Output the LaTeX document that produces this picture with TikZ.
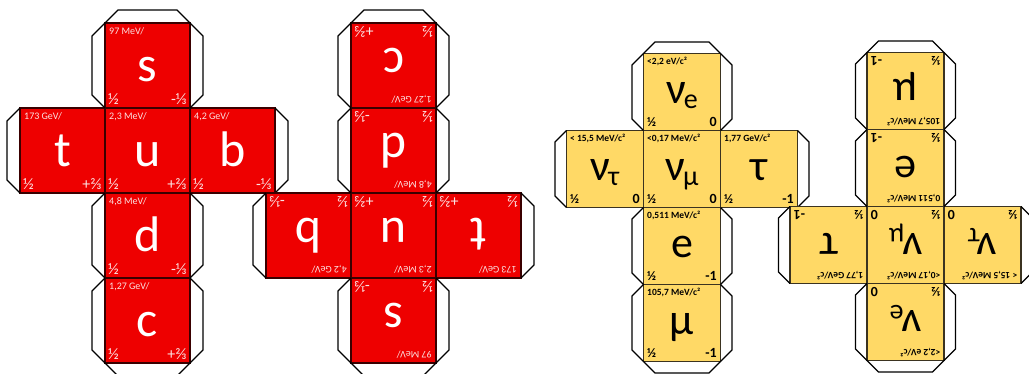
\documentclass[tikz,border=0pt]{standalone}
\usepackage{fontspec}
\setmainfont{Carlito}
\usetikzlibrary{positioning}
\definecolor{quarkred}{HTML}{EE0000}
\definecolor{quarkpale}{HTML}{FBE3E3}
\definecolor{quarkedge}{HTML}{3A0000}
\definecolor{leptongold}{HTML}{FFD966}
\definecolor{leptonedge}{HTML}{3B3320}

\newcommand\sub[1]{\kern-2pt\raisebox{-5pt}{\fontsize{28}{28}\selectfont #1}}
\newcommand\netface[6]{%
  \node[face, #2] (#1) {#4};
  \node[mass] (#1-m) at (#1.north west) {#3};
  \node[spin] (#1-s) at (#1.south west) {#5};
  \node[charge] (#1-q) at (#1.south east) {#6};}
\newcommand\flapN[1]{\draw[flap] (#1.north west) -- ++(\fl,\fl) -- ++(\fsz-2*\fl,0) -- (#1.north east);}
\newcommand\flapS[1]{\draw[flap] (#1.south west) -- ++(\fl,-\fl) -- ++(\fsz-2*\fl,0) -- (#1.south east);}
\newcommand\flapW[1]{\draw[flap] (#1.north west) -- ++(-\fl,-\fl) -- ++(0,2*\fl-\fsz) -- (#1.south west);}
\newcommand\flapE[1]{\draw[flap] (#1.north east) -- ++(\fl,-\fl) -- ++(0,2*\fl-\fsz) -- (#1.south east);}

\begin{document}
\begin{tikzpicture}[x=1pt, y=1pt,
    flap/.style={draw=black, line width=1.1pt},
    quark/.style={
      face/.style={draw=quarkedge, line width=1.2pt, fill=quarkred, text=white,
        minimum size=85pt, inner sep=0pt, outer sep=0pt,
        text height=33pt, text depth=0pt, font=\fontsize{50}{50}\selectfont},
      mass/.style={anchor=north west, inner sep=4pt, text=quarkpale,
        font=\fontsize{10}{12}\selectfont},
      spin/.style={anchor=south west, inner sep=3pt, text=quarkpale,
        font=\fontsize{16}{16}\selectfont},
      charge/.style={anchor=south east, inner sep=3pt, text=quarkpale,
        font=\fontsize{16}{16}\selectfont}},
    lepton/.style={
      face/.style={draw=leptonedge, line width=1.2pt, fill=leptongold, text=black,
        minimum size=77pt, inner sep=0pt, outer sep=0pt,
        text height=23pt, text depth=0pt, font=\fontsize{44}{44}\selectfont},
      mass/.style={anchor=north west, inner sep=3.5pt,
        font=\bfseries\fontsize{9.5}{11}\selectfont},
      spin/.style={anchor=south west, inner sep=3.5pt,
        font=\bfseries\fontsize{13}{13}\selectfont},
      charge/.style={anchor=south east, inner sep=3.5pt,
        font=\bfseries\fontsize{14}{14}\selectfont}}
  ]
  \useasboundingbox[fill=white] (0,0) rectangle (1029,374);

  \begin{scope}[quark, shift={(147.5,223.5)}]
    \def\fsz{85pt}\def\fl{13pt}
    \netface{qa-u}{at={(0,0)}}{2,3 MeV/}{u}{½}{+⅔}
    \netface{qa-s}{above=0pt of qa-u}{97 MeV/}{s}{½}{-⅓}
    \netface{qa-t}{left=0pt of qa-u}{173 GeV/}{t}{½}{+⅔}
    \netface{qa-b}{right=0pt of qa-u}{4,2 GeV/}{b}{½}{-⅓}
    \netface{qa-d}{below=0pt of qa-u}{4,8 MeV/}{d}{½}{-⅓}
    \netface{qa-c}{below=0pt of qa-d}{1,27 GeV/}{c}{½}{+⅔}
    \foreach \fc/\side in {s/N, s/W, s/E, t/W, b/E, d/W, d/E, c/W, c/E, c/S}
      {\csname flap\side\endcsname{qa-\fc}}
  \end{scope}

  \begin{scope}[quark, shift={(393.5,138.5)}, rotate=180, transform shape]
    \def\fsz{85pt}\def\fl{13pt}
    \netface{qb-u}{at={(0,0)}}{2,3 MeV/}{u}{½}{+⅔}
    \netface{qb-s}{above=0pt of qb-u}{97 MeV/}{s}{½}{-⅓}
    \netface{qb-t}{left=0pt of qb-u}{173 GeV/}{t}{½}{+⅔}
    \netface{qb-b}{right=0pt of qb-u}{4,2 GeV/}{b}{½}{-⅓}
    \netface{qb-d}{below=0pt of qb-u}{4,8 MeV/}{d}{½}{-⅓}
    \netface{qb-c}{below=0pt of qb-d}{1,27 GeV/}{c}{½}{+⅔}
    \foreach \fc/\side in {s/N, s/W, s/E, t/W, b/E, d/W, d/E, c/W, c/E, c/S}
      {\csname flap\side\endcsname{qb-\fc}}
  \end{scope}

  \begin{scope}[lepton, shift={(682,205)}]
    \def\fsz{77pt}\def\fl{11.5pt}
    \netface{la-nm}{at={(0,0)}}{<0,17 MeV/c²}{ν\sub{μ}}{½}{0}
    \netface{la-ne}{above=0pt of la-nm}{<2,2 eV/c²}{ν\sub{e}}{½}{0}
    \netface{la-nt}{left=0pt of la-nm}{< 15,5 MeV/c²}{ν\sub{τ}}{½}{0}
    \netface{la-ta}{right=0pt of la-nm}{1,77 GeV/c²}{τ}{½}{-1}
    \netface{la-e}{below=0pt of la-nm}{0,511 MeV/c²}{e}{½}{-1}
    \netface{la-mu}{below=0pt of la-e}{105,7 MeV/c²}{μ}{½}{-1}
    \foreach \fc/\side in {ne/N, ne/W, ne/E, nt/W, ta/E, e/W, e/E, mu/W, mu/E, mu/S}
      {\csname flap\side\endcsname{la-\fc}}
  \end{scope}

  \begin{scope}[lepton, shift={(905.5,129)}, rotate=180, transform shape]
    \def\fsz{77pt}\def\fl{11.5pt}
    \netface{lb-nm}{at={(0,0)}}{<0,17 MeV/c²}{ν\sub{μ}}{½}{0}
    \netface{lb-ne}{above=0pt of lb-nm}{<2,2 eV/c²}{ν\sub{e}}{½}{0}
    \netface{lb-nt}{left=0pt of lb-nm}{< 15,5 MeV/c²}{ν\sub{τ}}{½}{0}
    \netface{lb-ta}{right=0pt of lb-nm}{1,77 GeV/c²}{τ}{½}{-1}
    \netface{lb-e}{below=0pt of lb-nm}{0,511 MeV/c²}{e}{½}{-1}
    \netface{lb-mu}{below=0pt of lb-e}{105,7 MeV/c²}{μ}{½}{-1}
    \foreach \fc/\side in {ne/N, ne/W, ne/E, nt/W, ta/E, e/W, e/E, mu/W, mu/E, mu/S}
      {\csname flap\side\endcsname{lb-\fc}}
  \end{scope}
\end{tikzpicture}
\end{document}
